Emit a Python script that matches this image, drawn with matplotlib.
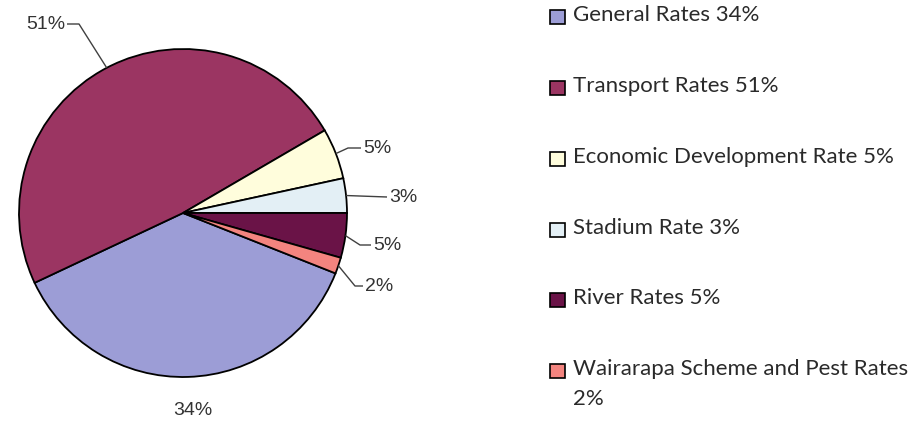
import matplotlib
matplotlib.use('Agg')
import matplotlib.pyplot as plt
from matplotlib.patches import Rectangle
import numpy as np
import textwrap

categories = ["General Rates", "Transport Rates", "Economic Development Rate",
              "Stadium Rate", "River Rates", "Wairarapa Scheme and Pest Rates"]
# percentages as printed in the chart
shares = [34, 51, 5, 3, 5, 2]
# slice sizes as drawn in the picture
slice_values = [37.0, 48.6, 5.0, 3.4, 4.4, 1.6]
pct_labels = ["34%", "51%", "5%", "3%", "5%", "2%"]
colors = ["#9C9DD6", "#9B3562", "#FFFDDC", "#E3EFF5", "#6A1347", "#F3847F"]

W, H = 924, 423
fig = plt.figure(figsize=(W / 100, H / 100), dpi=100)
ax = fig.add_axes([0, 0, 1, 1])

def Y(y):
    return H - y

cx, cy, r = 183, Y(213), 164
total = sum(slice_values)
start = -360.0 * sum(slice_values[4:]) / total

wedges, _ = ax.pie(slice_values, colors=colors, startangle=start, counterclock=False,
                   center=(cx, cy), radius=r,
                   wedgeprops=dict(edgecolor='black', linewidth=1.3))

# label layout: (text x, text y, ha, leader path points after anchor)
layout = [
    (193, 410, 'center', None),
    (65, 24, 'right', [(79, 24), (67, 24)]),
    (363, 148, 'left', [(348, 148), (361, 148)]),
    (389, 197, 'left', [(387, 197)]),
    (373, 245, 'left', [(360, 245), (371, 245)]),
    (365, 286, 'left', [(355, 286), (363, 286)]),
]
for w, lab, (tx, ty, ha, path) in zip(wedges, pct_labels, layout):
    mid = np.deg2rad((w.theta1 + w.theta2) / 2)
    if path:
        ax_ = cx + r * np.cos(mid)
        ay_ = cy + r * np.sin(mid)
        xs = [ax_] + [p[0] for p in path]
        ys = [ay_] + [Y(p[1]) for p in path]
        ax.plot(xs, ys, color='#404040', lw=1.0, solid_capstyle='butt')
    ax.text(tx, Y(ty), lab, ha=ha, va='center', fontsize=14,
            family='Liberation Sans', color='#333333')

# legend
leg_y = [17, 88, 159, 230, 300, 371]
for cat, s, col, ly in zip(categories, shares, colors, leg_y):
    ax.add_patch(Rectangle((550, Y(ly) - 7), 15, 14, facecolor=col,
                           edgecolor='black', lw=1.2))
    txt = textwrap.fill(f"{cat} {s}%", width=31)
    ax.text(573, Y(ly) + 12, txt, ha='left', va='top', fontsize=16,
            family='Lato', color='#2a2a2a', linespacing=1.65)

ax.set_xlim(0, W)
ax.set_ylim(0, H)
ax.set_aspect('auto')
ax.axis('off')
fig.savefig('out.png', dpi=100)
